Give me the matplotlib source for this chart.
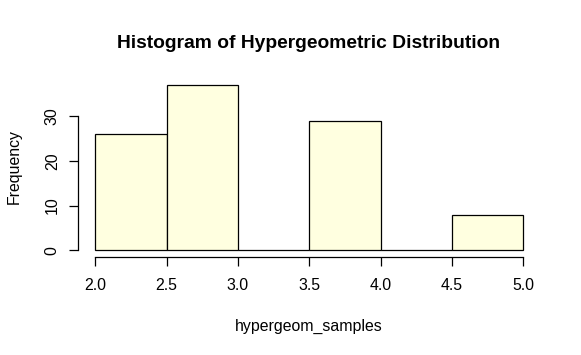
import numpy as np
import matplotlib
matplotlib.use("Agg")
import matplotlib.pyplot as plt

# histogram bins and counts
bin_edges = [2.0, 2.5, 3.0, 3.5, 4.0, 4.5, 5.0]
counts = [26, 37, 0, 29, 0, 8]
x_ticks = [2.0, 2.5, 3.0, 3.5, 4.0, 4.5, 5.0]
y_ticks = [0, 10, 20, 30]

plt.rcParams['font.family'] = ['Liberation Sans', 'DejaVu Sans']

fig = plt.figure(figsize=(5.81, 3.55), dpi=100)
ax = fig.add_axes([78.2/581, 1 - 256.9/355, 462.2/581, 178.5/355])

left = np.array(bin_edges[:-1])
widths = np.diff(bin_edges)
ax.bar(left, counts, width=widths, align='edge', color='#FFFFE0',
       edgecolor='black', linewidth=0.9)

# R-style axis: 4% padding, axes lines only across the tick range
ax.set_xlim(1.88, 5.12)
ax.set_ylim(-1.48, 38.48)
ax.spines['top'].set_visible(False)
ax.spines['right'].set_visible(False)
ax.spines['left'].set_bounds(0, 30)
ax.spines['bottom'].set_bounds(2, 5)
ax.spines['left'].set_linewidth(0.9)
ax.spines['bottom'].set_linewidth(0.9)

ax.set_xticks(x_ticks)
ax.set_xticklabels([f"{t:.1f}" for t in x_ticks])
ax.set_yticks(y_ticks)
ax.set_yticklabels([str(t) for t in y_ticks], rotation=90, va='center')
ax.tick_params(axis='both', length=6.2, width=0.9, labelsize=11.4)
ax.tick_params(axis='x', pad=9)
ax.tick_params(axis='y', pad=7)

fig.text(309/581, 1 - 326/355, "hypergeom_samples", ha='center', va='center',
         fontsize=11.4)
fig.text(14/581, 1 - 167/355, "Frequency", ha='center', va='center',
         fontsize=11.4, rotation=90)
fig.text(309/581, 1 - 44/355, "Histogram of Hypergeometric Distribution",
         ha='center', va='center', fontsize=13.9, fontweight='bold')

fig.savefig("out.png", dpi=100)
